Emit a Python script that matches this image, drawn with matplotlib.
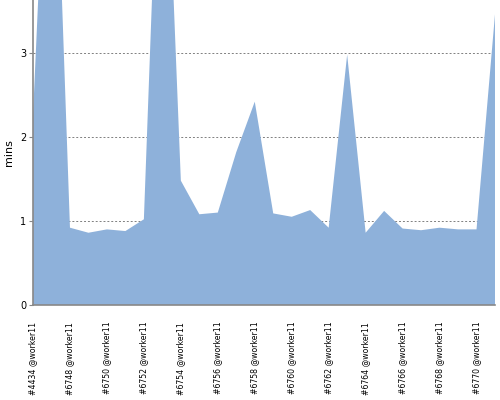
import matplotlib
matplotlib.use("Agg")
import matplotlib.pyplot as plt

builds = ["#4434 @worker11"] + ["#%d @worker11" % n for n in range(6747, 6772)]
minutes = [2.25, 7.2, 0.92, 0.86, 0.90, 0.88, 1.02, 7.0, 1.48, 1.08,
           1.10, 1.82, 2.42, 1.09, 1.05, 1.13, 0.92, 2.98, 0.86, 1.12,
           0.91, 0.89, 0.92, 0.90, 0.90, 3.46]
yticks = [0, 1, 2, 3]

fig = plt.figure(figsize=(5, 4), dpi=100)
ax = fig.add_axes([0.066, 0.2375, 0.924, 0.7625])
x = list(range(len(builds)))
ax.fill_between(x, minutes, 0, color="#8EB1DA", linewidth=0, zorder=2)
ax.set_xlim(0, len(builds) - 1)
ax.set_ylim(0, 3.63)
ax.set_yticks(yticks)
ax.set_yticklabels([str(t) for t in yticks], fontsize=7)
ax.set_xticks(x[::2])
ax.set_xticklabels(builds[::2], rotation=90, fontsize=5.6, va="top", ha="center")
ax.tick_params(axis="x", length=0, pad=12)
ax.tick_params(axis="y", length=3, color="#888888", pad=2)
for s in ["top", "right"]:
    ax.spines[s].set_visible(False)
for s in ["left", "bottom"]:
    ax.spines[s].set_color("#888888")
    ax.spines[s].set_linewidth(1.2)
    ax.spines[s].set_zorder(3)
ax.set_axisbelow(True)
ax.yaxis.grid(True, linestyle=(0, (2, 2)), color="#808080", linewidth=0.7, zorder=1)
ax.set_ylabel("mins", fontsize=8, labelpad=4)
fig.savefig("out.png", dpi=100)
